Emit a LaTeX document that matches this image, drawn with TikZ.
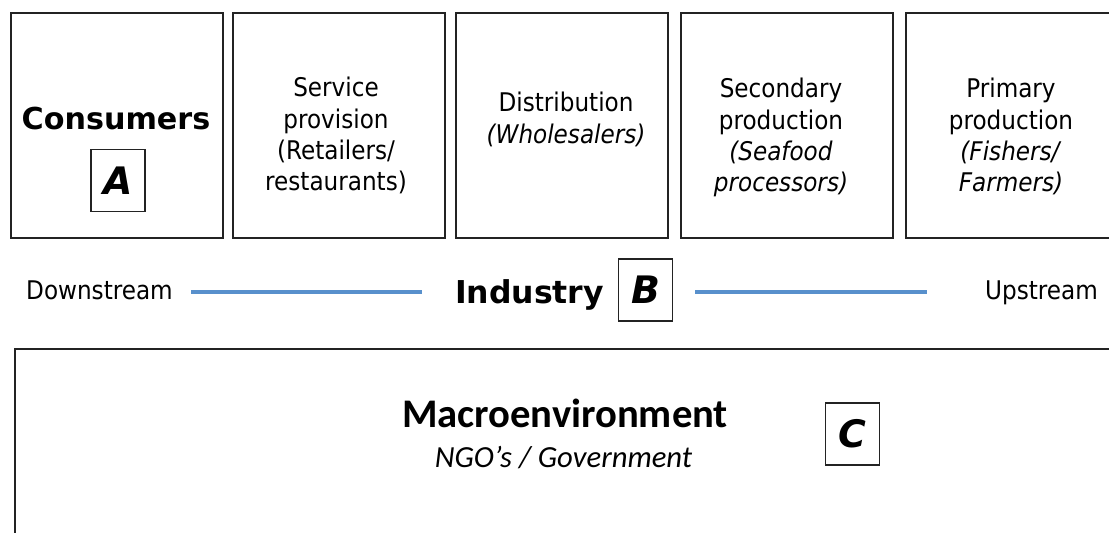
\documentclass[tikz,border=0pt]{standalone}
\usepackage{fontspec}
\setmainfont{DejaVu Sans}
\newfontfamily\condf{DejaVu Sans Condensed}
\newfontfamily\widef{DejaVu Sans}
\newfontfamily\calib{Carlito}
\definecolor{lineblue}{RGB}{88,144,204}
\definecolor{boxgray}{RGB}{35,35,35}
\tikzset{
  stagebox/.style={draw=boxgray, line width=2bp, minimum width=212bp, minimum height=225bp, anchor=north west, inner sep=0pt},
  letterbox/.style={draw=boxgray, line width=1.3bp, minimum width=54bp, minimum height=62bp, inner sep=0pt,
     font=\widef\bfseries\itshape\fontsize{38}{40}\selectfont},
  regtext/.style={anchor=base, inner sep=0pt, font=\condf\fontsize{25.8}{31.3}\selectfont},
  boldtext/.style={anchor=base, inner sep=0pt, font=\widef\bfseries\fontsize{30.3}{36}\selectfont},
  blueline/.style={draw=lineblue, line width=4bp},
}
\newcommand{\stack}[1]{\begingroup\setlength{\tabcolsep}{0pt}\renewcommand{\arraystretch}{1}\begin{tabular}[t]{c}#1\end{tabular}\endgroup}
\begin{document}
\begin{tikzpicture}[x=1bp,y=-1bp]
\useasboundingbox (0,0) rectangle (1109,533);
\clip (0,0) rectangle (1109,533);
\fill[white] (0,0) rectangle (1109,533);
% stage boxes
\node[stagebox] (b1) at (10,12) {};
\node[stagebox] (b2) at (232,12) {};
\node[stagebox] (b3) at (455,12) {};
\node[stagebox] (b4) at (680,12) {};
\node[stagebox] (b5) at (905,12) {};
% box texts
\node[boldtext] (cons) at (116,130) {Consumers};
\node[letterbox] (la) at (118,180.5) {A};
\node[regtext] (serv) at (336,97) {\stack{Service\\provision\\(Retailers/\\restaurants)}};
\node[regtext] (dist) at (566,112) {\stack{Distribution\\\textit{(Wholesalers)}}};
\node[regtext] (sec) at (781,98) {\stack{Secondary\\production\\\textit{(Seafood}\\\textit{processors)}}};
\node[regtext] (prim) at (1011,98) {\stack{Primary\\production\\\textit{(Fishers/}\\\textit{Farmers)}}};
% industry row
\node[regtext, anchor=base west] (down) at (26,300) {Downstream};
\node[regtext, anchor=base east] (up) at (1098,300) {Upstream};
\node[boldtext, font=\widef\bfseries\fontsize{31.6}{36}\selectfont] (ind) at (529.5,304) {Industry};
\node[letterbox] (lb) at (645.5,290) {B};
\coordinate (l1a) at (191,292);
\coordinate (l1b) at (422,292);
\coordinate (l2a) at (695,292);
\coordinate (l2b) at (927,292);
\draw[blueline] (l1a) -- (l1b);
\draw[blueline] (l2a) -- (l2b);
% macroenvironment
\node[draw=boxgray, line width=2bp, anchor=north west, minimum width=1120bp, minimum height=220bp, inner sep=0pt] (macro) at (13.5,348) {};
\node[anchor=base, inner sep=0pt, font=\calib\bfseries\fontsize{40.8}{44}\selectfont] (mac) at (565,427) {Macroenvironment};
\node[anchor=base, inner sep=0pt, font=\calib\itshape\fontsize{30.8}{34}\selectfont] (ngo) at (563.5,467) {NGO’s / Government};
\node[letterbox] (lc) at (852.5,434) {C};
\end{tikzpicture}
\end{document}
